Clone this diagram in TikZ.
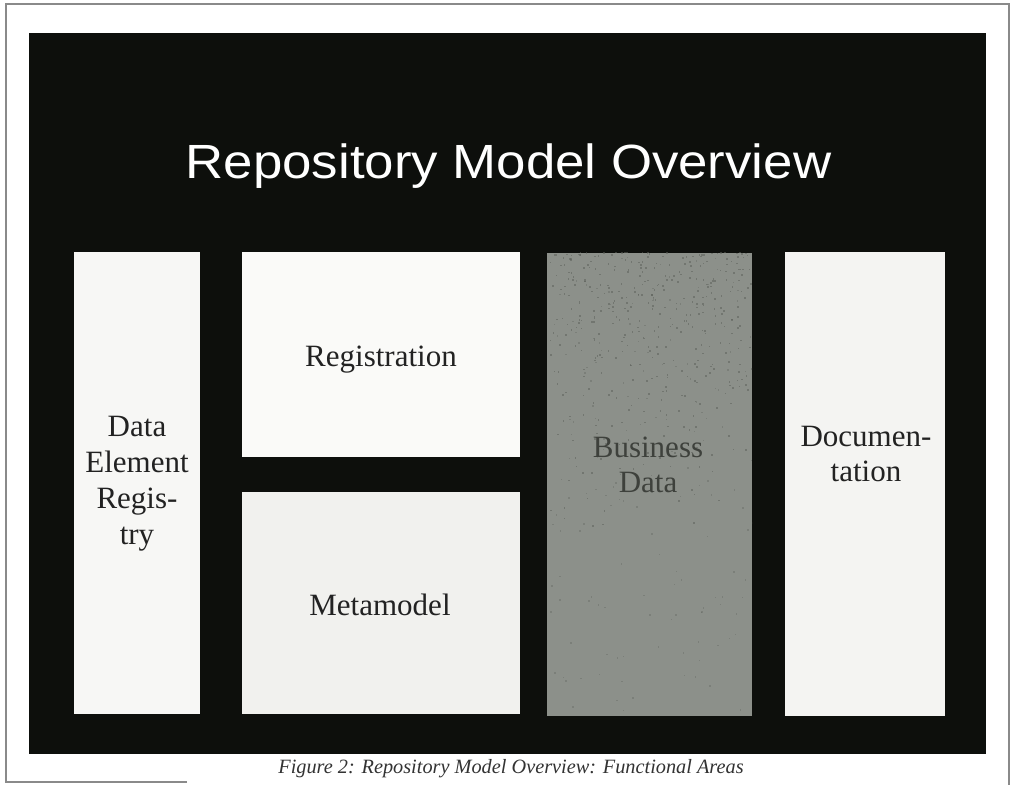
\documentclass[tikz,border=0pt]{standalone}
\usepackage{fontspec}
\setmainfont{Liberation Serif}
\newfontfamily\headfont[FakeStretch=1.1]{Liberation Sans}
\definecolor{slidebg}{HTML}{0D0F0C}
\definecolor{framegrey}{HTML}{8A8A8A}
\definecolor{paleA}{HTML}{F7F7F5}
\definecolor{paleB}{HTML}{FAFAF8}
\definecolor{paleC}{HTML}{F1F1EE}
\definecolor{paleD}{HTML}{F4F4F2}
\definecolor{midgrey}{HTML}{8C908A}
\definecolor{speck}{HTML}{5E625C}
\definecolor{inkdark}{HTML}{222222}
\definecolor{inkgrey}{HTML}{3E413C}
\tikzset{
  area/.style={rectangle, draw=none, inner sep=0pt, outer sep=0pt},
  arealabel/.style={inner sep=0pt, outer sep=0pt, text=inkdark, align=center,
    font=\fontsize{31}{36}\selectfont},
  headline/.style={inner sep=0pt, text=white, font=\headfont\fontsize{48}{52}\selectfont},
  captionstyle/.style={inner sep=0pt, text=black!80, font=\itshape\fontsize{20.3}{23}\selectfont}
}
\begin{document}
\begin{tikzpicture}[x=1pt,y=1pt]
  \useasboundingbox (0,0) rectangle (1016,785);
  \fill[white] (0,0) rectangle (1016,785);
  % page frame
  \draw[framegrey, line width=1.3pt] (187,3) -- (6,3) -- (6,781) -- (1009,781) -- (1009,0);
  % slide background
  \node[area, fill=slidebg, minimum width=957pt, minimum height=721pt] (slide) at (507.5,391.5) {};
  % title
  \node[headline, anchor=base] (title) at (508.5,606) {Repository Model Overview};
  % functional areas
  \node[area, fill=paleA, minimum width=126pt, minimum height=462pt] (der) at (137,302) {};
  \node[area, fill=paleB, minimum width=278pt, minimum height=205pt] (reg) at (381,430.5) {};
  \node[area, fill=paleC, minimum width=278pt, minimum height=222pt] (meta) at (381,182) {};
  \node[area, fill=midgrey, minimum width=205pt, minimum height=463pt] (bus) at (649.5,300.5) {};
  \node[area, fill=paleD, minimum width=160pt, minimum height=464pt] (doc) at (865,301) {};
  % grainy texture of the grey area, denser towards its top
  \pgfmathsetseed{4711}
  \begin{scope}
    \clip (bus.south west) rectangle (bus.north east);
    \foreach \k in {1,...,420} {
      \pgfmathsetmacro{\sx}{549+203*rnd}
      \pgfmathsetmacro{\sy}{532-300*rnd*rnd}
      \fill[speck, opacity=0.55] (\sx,\sy) rectangle ++(1.6,1.6);
    }
    \foreach \k in {1,...,160} {
      \pgfmathsetmacro{\sx}{549+203*rnd}
      \pgfmathsetmacro{\sy}{70+460*rnd}
      \fill[speck, opacity=0.35] (\sx,\sy) rectangle ++(1.4,1.4);
    }
  \end{scope}
  % labels
  \node[arealabel, anchor=north] (dertext) at (137,368.5) {Data\\Element\\Regis-\\try};
  \node[arealabel, anchor=base] (regtext) at (381,418) {Registration};
  \node[arealabel, anchor=base] (metatext) at (380,170) {Metamodel};
  \node[arealabel, anchor=north, text=inkgrey, font=\fontsize{31}{35}\selectfont] (bustext) at (648,348.5) {Business\\Data};
  \node[arealabel, anchor=north, font=\fontsize{31}{35}\selectfont] (doctext) at (866,358.5) {Documen-\\tation};
  % caption
  \node[captionstyle, anchor=base] (caption) at (511,12) {Figure 2: Repository Model Overview: Functional Areas};
\end{tikzpicture}
\end{document}
